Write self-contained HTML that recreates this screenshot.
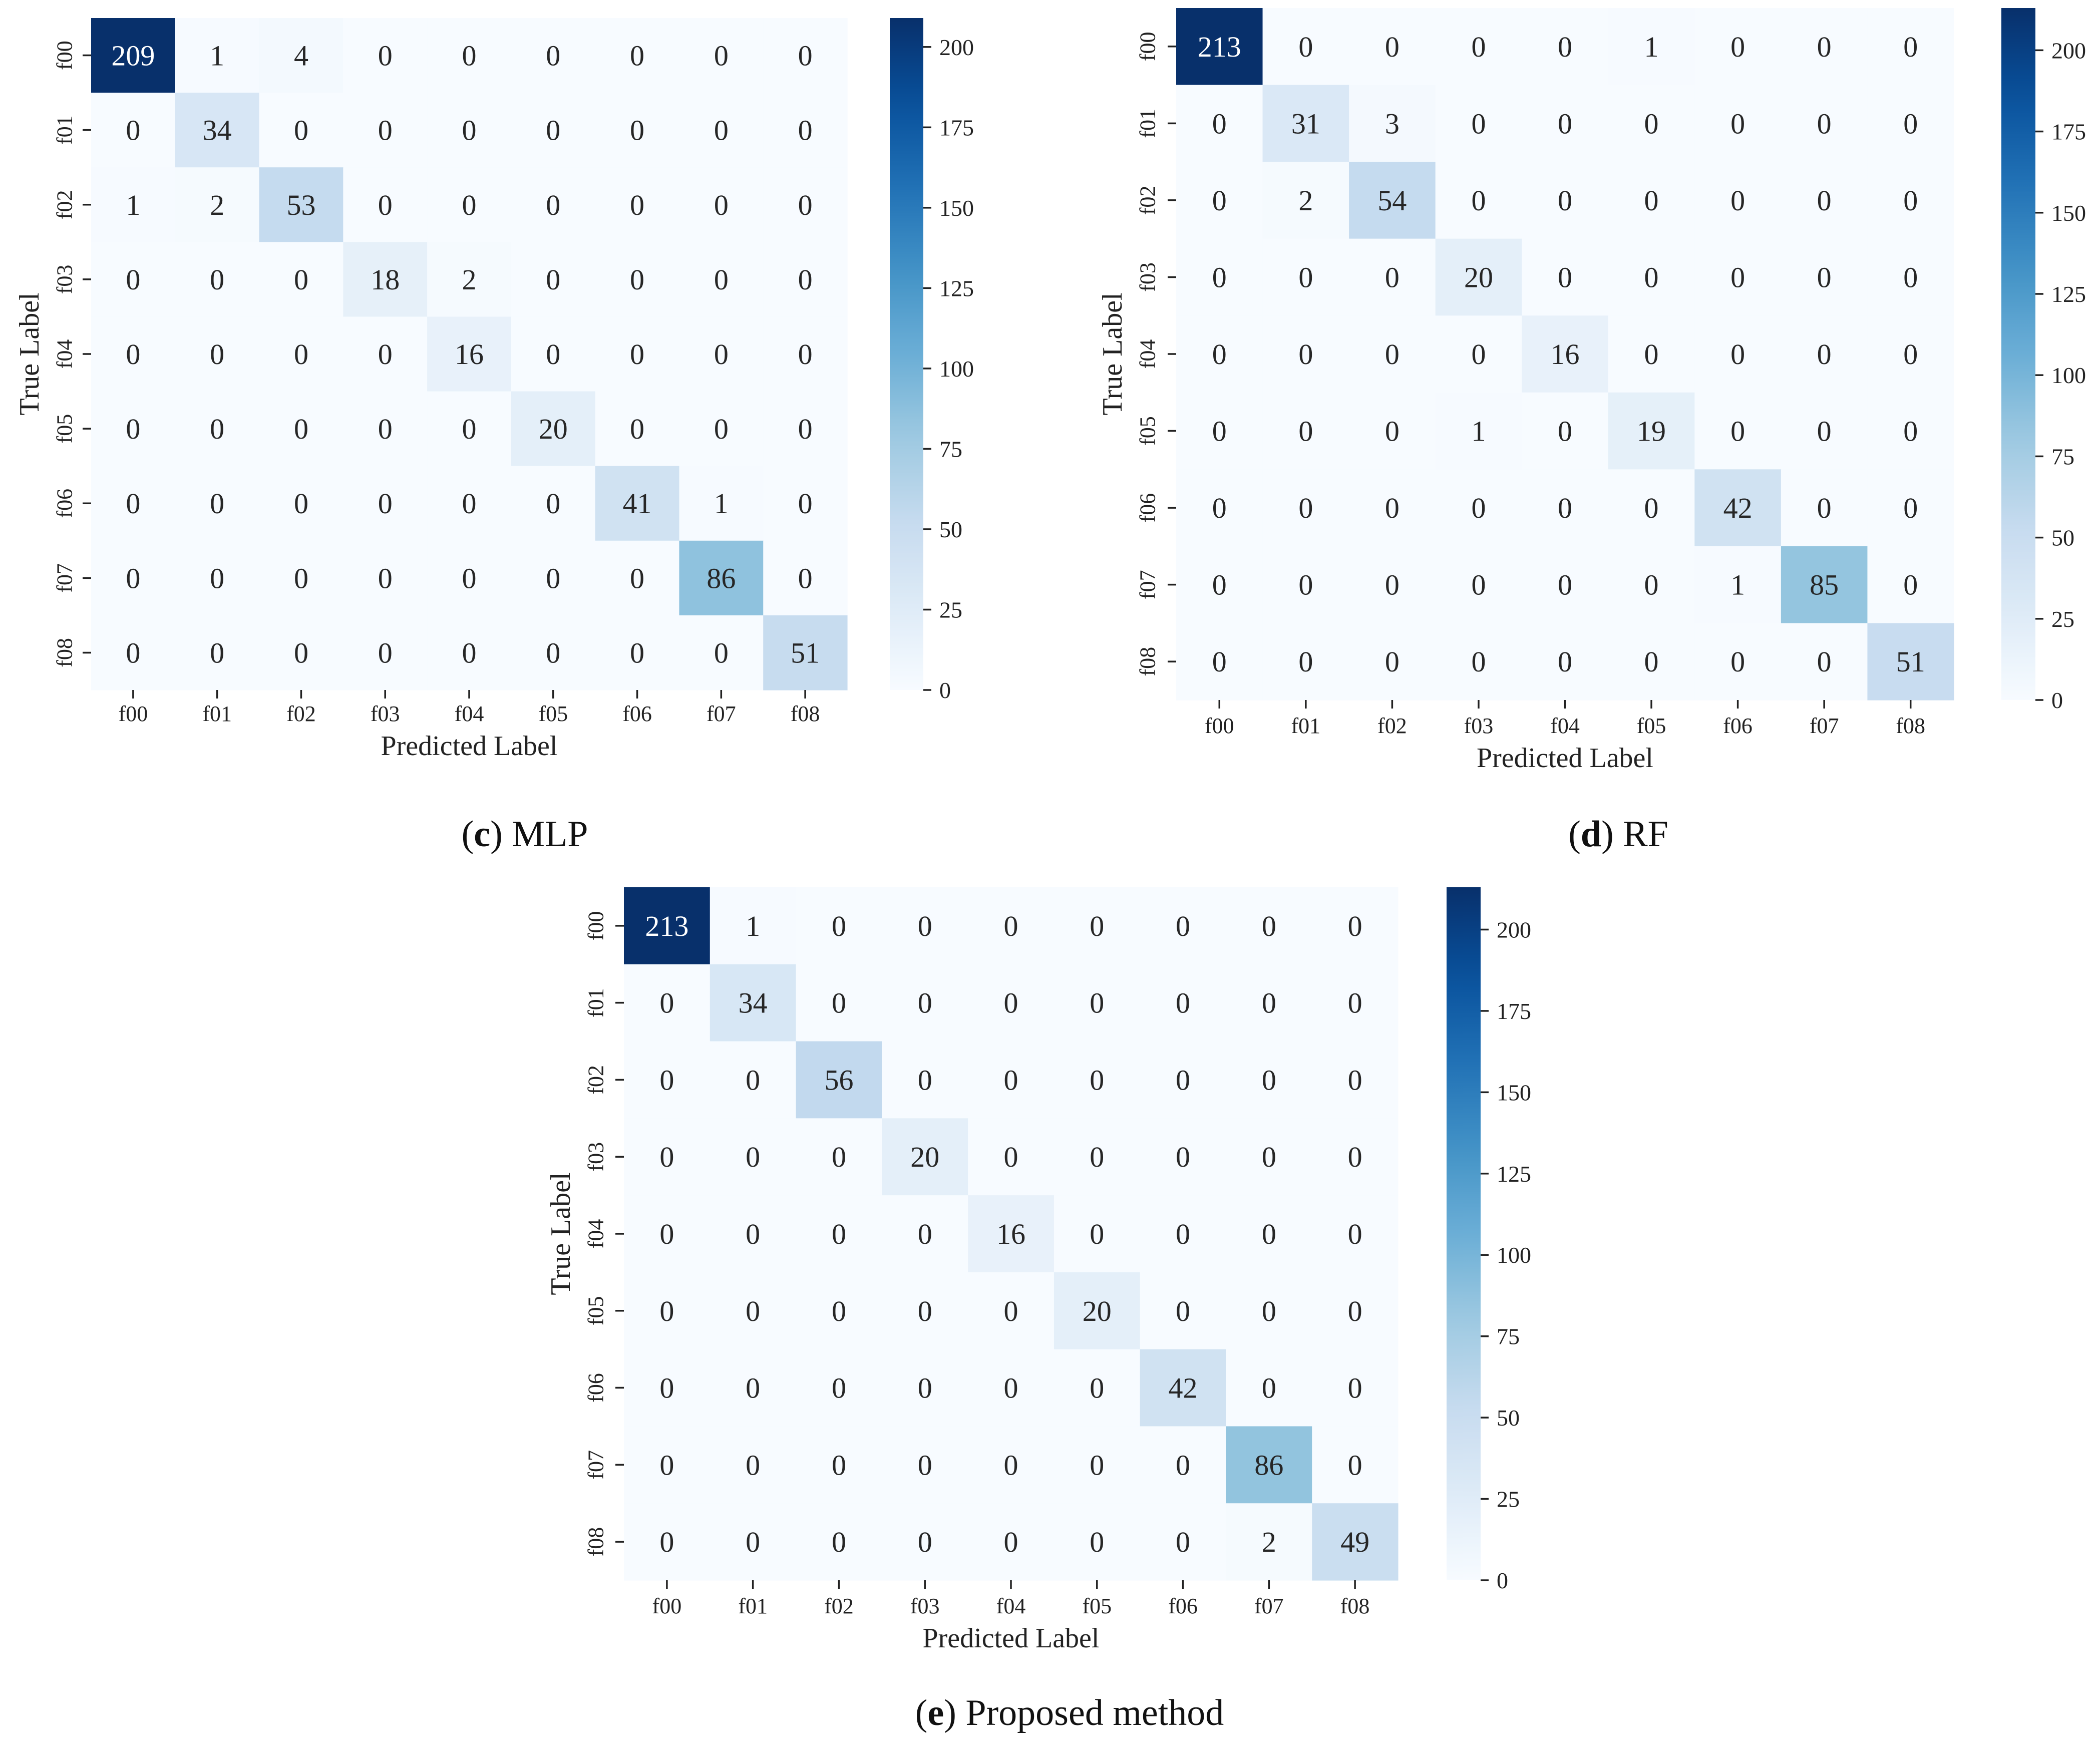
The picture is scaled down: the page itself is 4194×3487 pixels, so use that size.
<!DOCTYPE html>
<html><head><meta charset="utf-8"><style>
html,body{margin:0;padding:0;background:#fff;}
svg{display:block;font-family:"Liberation Serif","Times New Roman",serif;}
</style></head><body>
<svg id="fig" xmlns="http://www.w3.org/2000/svg" width="4194" height="3487" viewBox="0 0 4194 3487"></svg>
<script>
const categories = ["f00","f01","f02","f03","f04","f05","f06","f07","f08"];
const mlpValues = [
 [209,1,4,0,0,0,0,0,0],
 [0,34,0,0,0,0,0,0,0],
 [1,2,53,0,0,0,0,0,0],
 [0,0,0,18,2,0,0,0,0],
 [0,0,0,0,16,0,0,0,0],
 [0,0,0,0,0,20,0,0,0],
 [0,0,0,0,0,0,41,1,0],
 [0,0,0,0,0,0,0,86,0],
 [0,0,0,0,0,0,0,0,51]];
const rfValues = [
 [213,0,0,0,0,1,0,0,0],
 [0,31,3,0,0,0,0,0,0],
 [0,2,54,0,0,0,0,0,0],
 [0,0,0,20,0,0,0,0,0],
 [0,0,0,0,16,0,0,0,0],
 [0,0,0,1,0,19,0,0,0],
 [0,0,0,0,0,0,42,0,0],
 [0,0,0,0,0,0,1,85,0],
 [0,0,0,0,0,0,0,0,51]];
const proposedValues = [
 [213,1,0,0,0,0,0,0,0],
 [0,34,0,0,0,0,0,0,0],
 [0,0,56,0,0,0,0,0,0],
 [0,0,0,20,0,0,0,0,0],
 [0,0,0,0,16,0,0,0,0],
 [0,0,0,0,0,20,0,0,0],
 [0,0,0,0,0,0,42,0,0],
 [0,0,0,0,0,0,0,86,0],
 [0,0,0,0,0,0,0,2,49]];
const colorbarTicks = [0,25,50,75,100,125,150,175,200];
const captionLetters = ["c","d","e"];
const captionNames = ["MLP","RF","Proposed method"];

const NS="http://www.w3.org/2000/svg";
const svg=document.getElementById('fig');
const blues=["#f7fbff","#deebf7","#c6dbef","#9ecae1","#6baed6","#4292c6","#2171b5","#08519c","#08306b"];
function hex(h){return [parseInt(h.substr(1,2),16),parseInt(h.substr(3,2),16),parseInt(h.substr(5,2),16)];}
function cmap(t){t=Math.max(0,Math.min(1,t));const p=t*8;const i=Math.min(7,Math.floor(p));const f=p-i;
 const a=hex(blues[i]),b=hex(blues[i+1]);return "rgb("+a.map((v,k)=>Math.round(v+(b[k]-v)*f)).join(",")+")";}
function el(tag,attrs,parent){const e=document.createElementNS(NS,tag);for(const k in attrs)e.setAttribute(k,attrs[k]);(parent||svg).appendChild(e);return e;}

const panels=[
 {data:mlpValues,x0:182,x1:1692,y0:36,y1:1378,cbx0:1777,cbx1:1844,rowLabX:129,xLabY:1440,predY:1508,trueX:59,capX:1048,capY:1690,name:"mlp"},
 {data:rfValues,x0:2349,x1:3902,y0:16,y1:1398,cbx0:3997,cbx1:4065,rowLabX:2292,xLabY:1464,predY:1532,trueX:2222,capX:3232,capY:1690,name:"rf"},
 {data:proposedValues,x0:1246,x1:2792,y0:1772,y1:3156,cbx0:2889,cbx1:2957,rowLabX:1190,xLabY:3222,predY:3290,trueX:1120,capX:2136,capY:3445,name:"proposed"}
];

panels.forEach((P,pi)=>{
 const g=el('g',{});
 
 
 const n=categories.length;
 const vmax=Math.max(...P.data.flat());
 const cw=(P.x1-P.x0)/n, ch=(P.y1-P.y0)/n;
 const xs=j=>P.x0+j*cw, ys=i=>P.y0+i*ch;
 const cy=v=>P.y1-(v/vmax)*(P.y1-P.y0);
 // cells
 P.data.forEach((row,i)=>row.forEach((v,j)=>{
  const r=el('rect',{x:xs(j),y:ys(i),width:cw+0.6,height:ch+0.6,fill:cmap(v/vmax)},g);
  
  
  const t=el('text',{x:xs(j)+cw/2,y:ys(i)+ch/2+20,'text-anchor':'middle','font-size':58,fill:(v/vmax>0.6?'#ffffff':'#262626')},g);
  t.textContent=v;
  
  
 }));
 // y ticks
 categories.forEach((c,i)=>{
  const yc=ys(i)+ch/2;
  el('line',{x1:P.x0-17,x2:P.x0,y1:yc,y2:yc,stroke:'#222','stroke-width':3.5},g);
  const t=el('text',{x:P.rowLabX,y:yc,'text-anchor':'middle','dominant-baseline':'central','font-size':44,fill:'#222',transform:'rotate(-90 '+P.rowLabX+' '+yc+')'},g);
  t.textContent=c;
  
  
 });
 // x ticks
 categories.forEach((c,j)=>{
  const xc=xs(j)+cw/2;
  el('line',{x1:xc,x2:xc,y1:P.y1,y2:P.y1+17,stroke:'#222','stroke-width':3.5},g);
  const t=el('text',{x:xc,y:P.xLabY,'text-anchor':'middle','font-size':44,fill:'#222'},g);
  t.textContent=c;
  
  
 });
 const xl=el('text',{x:(P.x0+P.x1)/2,y:P.predY,'text-anchor':'middle','font-size':56,fill:'#222'},g);
 xl.textContent='Predicted Label';
 
 
 const ym=(P.y0+P.y1)/2;
 const yl=el('text',{x:P.trueX,y:ym,'text-anchor':'middle','dominant-baseline':'central','font-size':56,fill:'#222',transform:'rotate(-90 '+P.trueX+' '+ym+')'},g);
 yl.textContent='True Label';
 
 
 // colorbar
 const gid='cbg'+pi;
 const defs=el('defs',{},g);
 const lg=el('linearGradient',{id:gid,x1:0,y1:1,x2:0,y2:0},defs);
 for(let k=0;k<=20;k++){el('stop',{offset:(k/20),'stop-color':cmap(k/20)},lg);}
 const cb=el('rect',{x:P.cbx0,y:P.y0,width:P.cbx1-P.cbx0,height:P.y1-P.y0,fill:'url(#'+gid+')'},g);
 
 
 colorbarTicks.forEach(v=>{
  if(v>vmax)return;
  const yy=cy(v);
  el('line',{x1:P.cbx1,x2:P.cbx1+16,y1:yy,y2:yy,stroke:'#222','stroke-width':3.5},g);
  const t=el('text',{x:P.cbx1+32,y:yy+16,'font-size':46,fill:'#222'},g);
  t.textContent=v;
  
  
 });
 // caption
 const cap=el('text',{x:P.capX,y:P.capY,'text-anchor':'middle','font-size':74,fill:'#111'},g);
 
 
 const s1=el('tspan',{},cap);s1.textContent='(';
 const s2=el('tspan',{'font-weight':'bold'},cap);s2.textContent=captionLetters[pi];
 const s3=el('tspan',{},cap);s3.textContent=') '+captionNames[pi];
});
</script>
</body></html>
